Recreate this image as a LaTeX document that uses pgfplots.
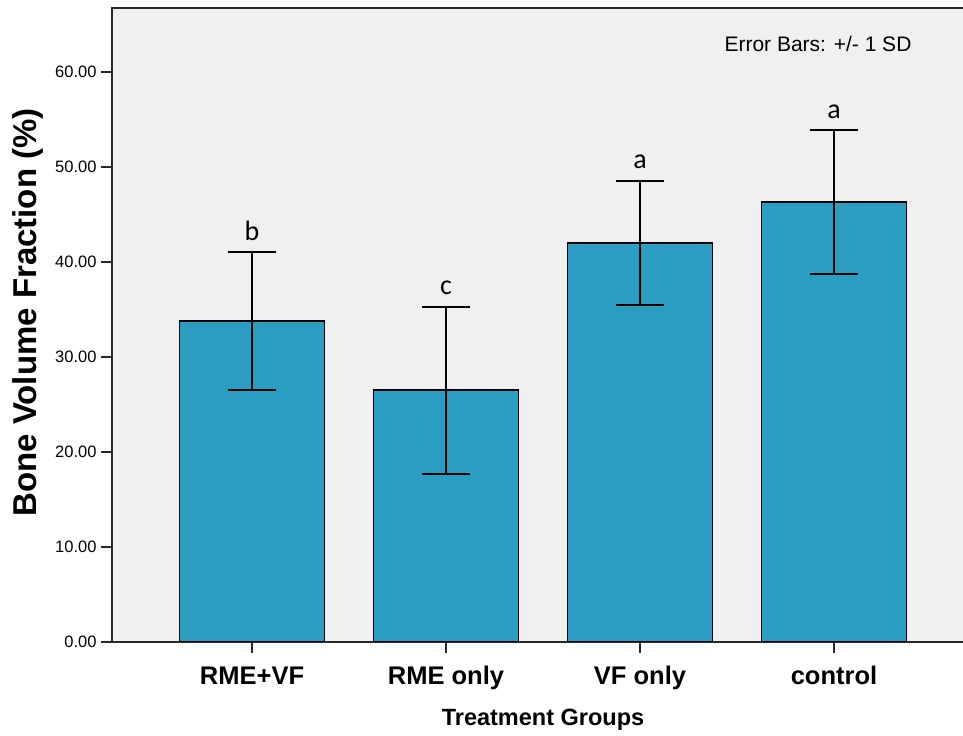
\documentclass[border=0pt]{standalone}
\usepackage{fontspec}
\setmainfont{Liberation Sans}
\newfontfamily\calfont{Carlito}
\usepackage{pgfplots}
\pgfplotsset{compat=1.18}
\definecolor{barblue}{RGB}{44,157,195}
\definecolor{bggray}{RGB}{240,240,240}
\definecolor{axgray}{RGB}{40,40,40}
\begin{document}
\begin{tikzpicture}
\useasboundingbox (0,0) rectangle (963bp,736bp);
\begin{axis}[
  at={(112bp,94bp)}, anchor=south west,
  scale only axis, width=862bp, height=634bp,
  xmin=-0.722, xmax=3.722, ymin=0, ymax=66.74,
  axis background/.style={fill=bggray},
  axis line style={draw=axgray, line width=2bp},
  xtick={0,1,2,3}, xticklabels={RME+VF, RME only, VF only, control},
  ytick={0,10,...,60},
  tick align=outside, xtick pos=bottom, ytick pos=left,
  major tick length=11bp,
  x tick style={line width=2bp, draw=axgray, shorten >=-5bp},
  y tick style={line width=2bp, draw=axgray},
  yticklabel style={font=\fontsize{16.5bp}{18bp}\selectfont, xshift=-1bp, /pgf/number format/.cd, fixed, fixed zerofill, precision=2, assume math mode=true},
  xticklabel style={font=\bfseries\fontsize{25.5bp}{28bp}\selectfont, yshift=-10bp},
  ylabel={Bone Volume Fraction (\%)},
  ylabel style={font=\bfseries\fontsize{33bp}{35bp}\selectfont, at={(rel axis cs:-0.0974,0.52)}, anchor=center},
  xlabel={Treatment Groups},
  xlabel style={font=\bfseries\fontsize{23.5bp}{25bp}\selectfont, at={(rel axis cs:0.5,0)}, anchor=base, yshift=-83bp},
]
\addplot[ybar, bar width=145bp, fill=barblue, draw=black, line width=1.8bp,
  error bars/.cd, y dir=both, y explicit,
  error bar style={line width=1.5bp, black},
  error mark options={rotate=90, line width=2bp, black, mark size=24bp}]
  table[x=x, y=y, y error=e]{
x y e
0 33.8 7.25
1 26.5 8.8
2 42.0 6.55
3 46.3 7.55
};
\addplot[draw=none, mark=none, nodes near coords, point meta=explicit symbolic,
  nodes near coords style={anchor=base, yshift=12bp, font=\calfont\fontsize{28bp}{30bp}\selectfont, text=black, inner sep=0pt}]
  table[x=x, y=y, meta=lab]{
x y lab
0 41.05 b
1 35.3 c
2 48.55 a
3 53.85 a
};
\node[anchor=base, font=\fontsize{21bp}{23bp}\selectfont, inner sep=0pt] at (rel axis cs:0.819,0.932) {Error Bars: +/- 1 SD};
\end{axis}
\end{tikzpicture}
\end{document}
